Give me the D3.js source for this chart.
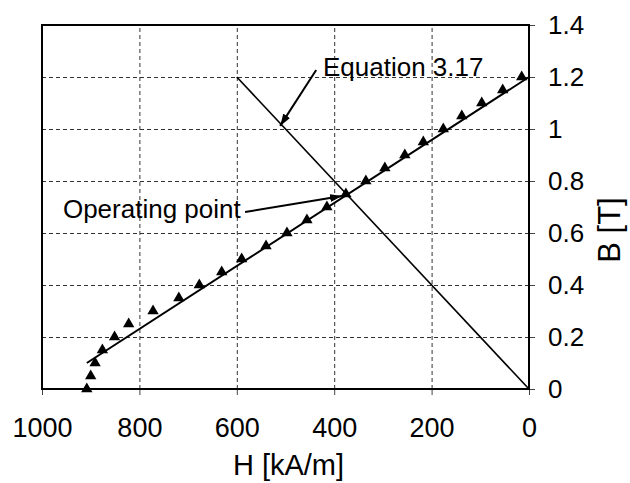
<!DOCTYPE html>
<html>
<head>
<meta charset="utf-8">
<script src="https://cdn.jsdelivr.net/npm/d3@7"></script>
<style>
  body { margin: 0; background: #fff; }
  svg { display: block; font-family: Arial, "Liberation Sans", sans-serif; }
</style>
</head>
<body>
<svg id="chart" width="630" height="483"></svg>
<script>
// measured points (triangles), B steps of 0.05 T
const measuredH = [908, 900, 891, 876, 851, 822, 772, 719, 677, 631, 590, 540, 497,
  456, 415, 376, 335, 296, 255, 217, 176, 138, 97, 54, 15];
const measuredB = [0, 0.05, 0.1, 0.15, 0.2, 0.25, 0.3, 0.35, 0.4, 0.45, 0.5, 0.55, 0.6,
  0.65, 0.7, 0.75, 0.8, 0.85, 0.9, 0.95, 1.0, 1.05, 1.1, 1.15, 1.2];

// straight line fitted through the demagnetisation curve
const fitH = [908, 0];
const fitB = [0.1, 1.2];

// load line, Equation 3.17
const eqH = [600, 0];
const eqB = [1.2, 0];

const xTicks = [1000, 800, 600, 400, 200, 0];
const yTicks = [0, 0.2, 0.4, 0.6, 0.8, 1, 1.2, 1.4];

const svg = d3.select("#chart");
const plotL = 42, plotR = 529, plotT = 25, plotB = 389;

const x = d3.scaleLinear().domain([1000, 0]).range([plotL, plotR]);
const y = d3.scaleLinear().domain([0, 1.4]).range([plotB, plotT]);

// grid
svg.append("g")
  .attr("transform", `translate(0,${plotB})`)
  .call(d3.axisBottom(x).tickValues([800, 600, 400, 200]).tickSize(-(plotB - plotT)).tickFormat(""))
  .call((g) => g.select(".domain").remove())
  .selectAll("line")
  .attr("stroke", "#333")
  .attr("stroke-dasharray", "4,3");

svg.append("g")
  .attr("transform", `translate(${plotL},0)`)
  .call(d3.axisLeft(y).tickValues([0.2, 0.4, 0.6, 0.8, 1, 1.2]).tickSize(-(plotR - plotL)).tickFormat(""))
  .call((g) => g.select(".domain").remove())
  .selectAll("line")
  .attr("stroke", "#333")
  .attr("stroke-dasharray", "4,3");

// axes
const xAxis = svg.append("g")
  .attr("transform", `translate(0,${plotB})`)
  .call(d3.axisBottom(x).tickValues(xTicks).tickSize(6).tickFormat(d3.format("d")));
xAxis.select(".domain").remove();
xAxis.selectAll("line").attr("stroke", "#444");
xAxis.selectAll("text")
  .attr("y", 48)
  .attr("dy", null)
  .attr("fill", "#000")
  .style("font-size", "27px")
  .style("font-family", "Arial, 'Liberation Sans', sans-serif");

const yAxis = svg.append("g")
  .attr("transform", `translate(${plotR},0)`)
  .call(d3.axisRight(y).tickValues(yTicks).tickSize(6).tickPadding(13).tickFormat((d) => String(d)));
yAxis.select(".domain").remove();
yAxis.selectAll("line").attr("stroke", "#444");
yAxis.selectAll("text")
  .attr("fill", "#000")
  .style("font-size", "26px")
  .style("font-family", "Arial, 'Liberation Sans', sans-serif");

// frame
svg.append("rect")
  .attr("x", plotL)
  .attr("y", plotT)
  .attr("width", plotR - plotL)
  .attr("height", plotB - plotT)
  .attr("fill", "none")
  .attr("stroke", "#000")
  .attr("stroke-width", 2);

const line = d3.line().x((d) => x(d[0])).y((d) => y(d[1]));

svg.append("path")
  .datum(eqH.map((h, i) => [h, eqB[i]]))
  .attr("d", line)
  .attr("fill", "none")
  .attr("stroke", "#000")
  .attr("stroke-width", 1.6);

svg.append("path")
  .datum(fitH.map((h, i) => [h, fitB[i]]))
  .attr("d", line)
  .attr("fill", "none")
  .attr("stroke", "#000")
  .attr("stroke-width", 2);

svg.append("g")
  .selectAll("path")
  .data(measuredH.map((h, i) => [h, measuredB[i]]))
  .enter()
  .append("path")
  .attr("d", d3.symbol(d3.symbolTriangle, 56))
  .attr("transform", (d) => `translate(${x(d[0])},${y(d[1])})`)
  .attr("fill", "#000");

// annotations
svg.append("defs")
  .append("marker")
  .attr("id", "arrow")
  .attr("viewBox", "0 0 12 8")
  .attr("refX", 12)
  .attr("refY", 4)
  .attr("markerWidth", 12)
  .attr("markerHeight", 8)
  .attr("markerUnits", "userSpaceOnUse")
  .attr("orient", "auto")
  .append("path")
  .attr("d", "M0,0L12,4L0,8Z")
  .attr("fill", "#000");

const notes = [
  { text: "Equation 3.17", tx: 423, tb: 1.205, from: [437, 1.227], to: [511, 1.012] },
  { text: "Operating point", tx: 957, tb: 0.658, from: [583, 0.681], to: [384, 0.742] },
];

notes.forEach((n) => {
  svg.append("line")
    .attr("x1", x(n.from[0]))
    .attr("y1", y(n.from[1]))
    .attr("x2", x(n.to[0]))
    .attr("y2", y(n.to[1]))
    .attr("stroke", "#000")
    .attr("stroke-width", 2)
    .attr("marker-end", "url(#arrow)");
  svg.append("text")
    .attr("x", x(n.tx))
    .attr("y", y(n.tb))
    .style("font-size", "26px")
    .text(n.text);
});

// axis titles
svg.append("text")
  .attr("x", (plotL + plotR) / 2 + 3)
  .attr("y", 475)
  .attr("text-anchor", "middle")
  .style("font-size", "29px")
  .text("H [kA/m]");

svg.append("text")
  .attr("transform", "translate(620,230) rotate(-90)")
  .attr("text-anchor", "middle")
  .style("font-size", "31px")
  .text("B [T]");
</script>
</body>
</html>
